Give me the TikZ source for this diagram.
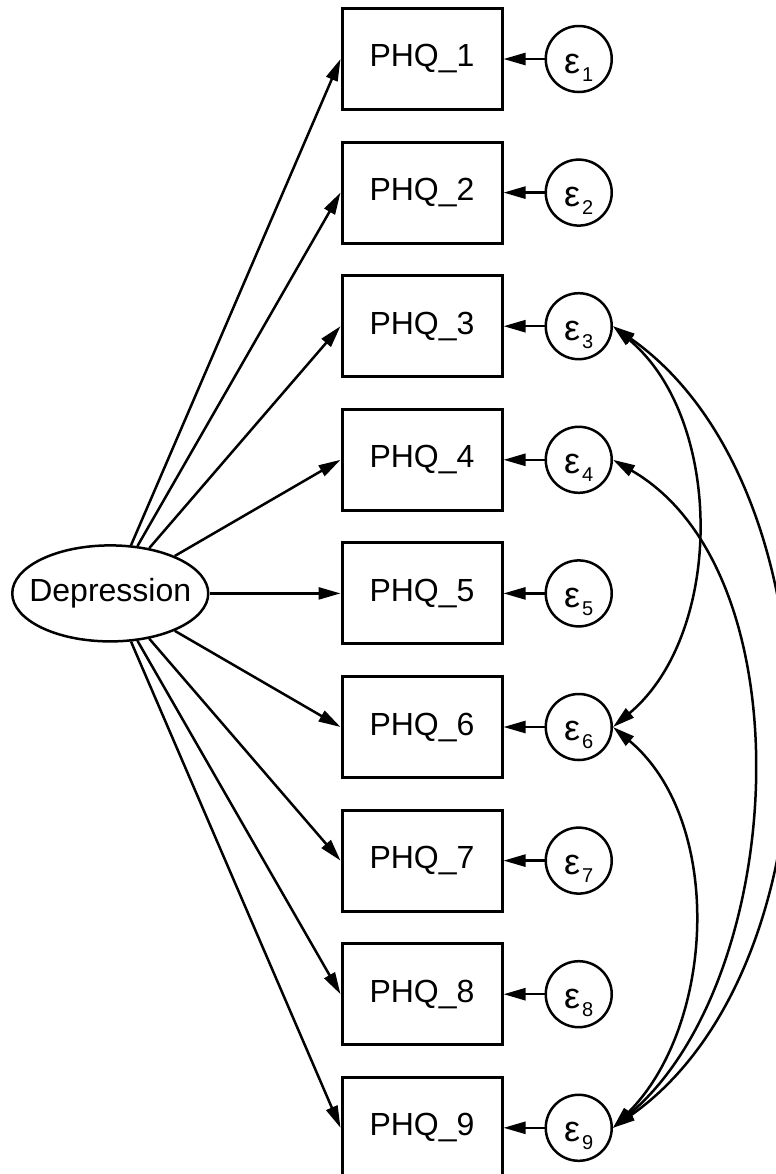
\documentclass[tikz,border=0pt]{standalone}
\usepackage{fontspec}
\setmainfont{Liberation Sans}
\usepackage{tikz}
\usetikzlibrary{positioning,shapes.geometric,arrows.meta}

\newcommand{\eps}[1]{\rule{0pt}{18pt}{\fontsize{18}{18}\selectfont ε}\kern1pt\raisebox{-4pt}{\fontsize{10}{10}\selectfont #1}}

\begin{document}
\begin{tikzpicture}[
node distance=14.8pt,
every node/.style={font=\fontsize{16}{19}\selectfont},
obs/.style={draw, line width=1.5pt, minimum width=80pt, minimum height=50.5pt, inner sep=0pt},
err/.style={draw, circle, line width=1.25pt, minimum size=33pt, inner sep=0pt},
lat/.style={draw, ellipse, line width=1.25pt, minimum width=98pt, minimum height=48pt, inner xsep=-6.3pt, inner ysep=0pt},
>={Triangle[length=11pt,width=6pt]}
]

\useasboundingbox (0,0) rectangle (388pt,-587pt);

% items
\node (phq1) [obs] at (211pt,-29.5pt) {PHQ\_1};
\node (phq2) [obs, below=of phq1] {PHQ\_2};
\node (phq3) [obs, below=of phq2] {PHQ\_3};
\node (phq4) [obs, below=of phq3] {PHQ\_4};
\node (phq5) [obs, below=of phq4] {PHQ\_5};
\node (phq6) [obs, below=of phq5] {PHQ\_6};
\node (phq7) [obs, below=of phq6] {PHQ\_7};
\node (phq8) [obs, below=of phq7] {PHQ\_8};
\node (phq9) [obs, below=of phq8] {PHQ\_9};

% errors
\node (e1) [err, right=20.5pt of phq1] {\eps{1}};
\node (e2) [err, right=20.5pt of phq2] {\eps{2}};
\node (e3) [err, right=20.5pt of phq3] {\eps{3}};
\node (e4) [err, right=20.5pt of phq4] {\eps{4}};
\node (e5) [err, right=20.5pt of phq5] {\eps{5}};
\node (e6) [err, right=20.5pt of phq6] {\eps{6}};
\node (e7) [err, right=20.5pt of phq7] {\eps{7}};
\node (e8) [err, right=20.5pt of phq8] {\eps{8}};
\node (e9) [err, right=20.5pt of phq9] {\eps{9}};

% factor
\node (dep) [lat, left=65.5pt of phq5] {Depression};

\draw[->, line width=1.25pt] (dep) -- (phq1.west);
\draw[->, line width=1.25pt] (dep) -- (phq2.west);
\draw[->, line width=1.25pt] (dep) -- (phq3.west);
\draw[->, line width=1.25pt] (dep) -- (phq4.west);
\draw[->, line width=1.25pt] (dep) -- (phq5.west);
\draw[->, line width=1.25pt] (dep) -- (phq6.west);
\draw[->, line width=1.25pt] (dep) -- (phq7.west);
\draw[->, line width=1.25pt] (dep) -- (phq8.west);
\draw[->, line width=1.25pt] (dep) -- (phq9.west);

\draw[->, line width=1.25pt] (e1) -- (phq1);
\draw[->, line width=1.25pt] (e2) -- (phq2);
\draw[->, line width=1.25pt] (e3) -- (phq3);
\draw[->, line width=1.25pt] (e4) -- (phq4);
\draw[->, line width=1.25pt] (e5) -- (phq5);
\draw[->, line width=1.25pt] (e6) -- (phq6);
\draw[->, line width=1.25pt] (e7) -- (phq7);
\draw[->, line width=1.25pt] (e8) -- (phq8);
\draw[->, line width=1.25pt] (e9) -- (phq9);

% covariances
\draw[<->, line width=1.25pt] (e3.east) to[out=-40, in=40, looseness=0.93] (e6.east);
\draw[<->, line width=1.25pt] (e3.east) to[out=-35, in=35, looseness=0.9] (e9.east);
\draw[<->, line width=1.25pt] (e4.east) to[out=-30, in=40, looseness=0.87] (e9.east);
\draw[<->, line width=1.25pt] (e6.east) to[out=-40, in=45, looseness=0.93] (e9.east);

\end{tikzpicture}
\end{document}
